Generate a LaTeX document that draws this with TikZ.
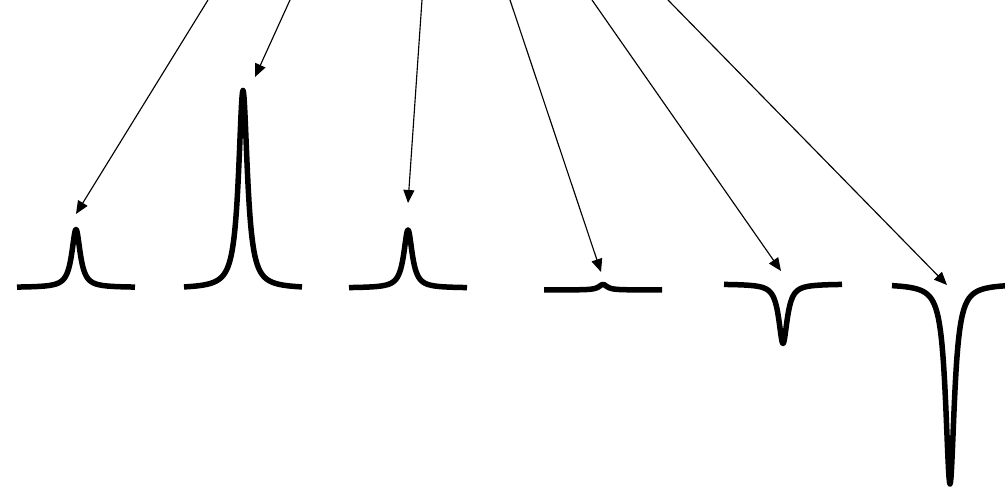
\documentclass[tikz,border=0pt]{standalone}
\usepackage{tikz}
\usepackage{xcolor}
\usetikzlibrary{arrows.meta}
\definecolor{tracec}{HTML}{000000}
\definecolor{pointc}{HTML}{000000}
\tikzset{
  trace/.style={draw=tracec, line width=0.11cm, line join=round},
  pointer/.style={draw=pointc, line width=0.65pt, -{Triangle[length=0.26cm,width=0.22cm]}},
}

\begin{document}
\begin{tikzpicture}[x=0.02cm, y=-0.02cm]
\useasboundingbox (0,0) rectangle (1005,489);
% line shapes
\draw[trace] plot[domain=-59:59, samples=237] ({76+\x}, {287.5-58*26/(\x*\x+26)});
\draw[trace] plot[domain=-59:59, samples=237] ({243+\x}, {288.5-198*28/(\x*\x+28)});
\draw[trace] plot[domain=-59:59, samples=237] ({408+\x}, {288-58*26/(\x*\x+26)});
\draw[trace] plot[domain=-59:59, samples=237] ({603+\x}, {290-5.5*26/(\x*\x+26)});
\draw[trace] plot[domain=-59:59, samples=237] ({783+\x}, {284+59.5*26/(\x*\x+26)});
\draw[trace] plot[domain=-58:58, samples=233] ({950+\x}, {284+200*28/(\x*\x+28)});
% arrows
\coordinate (src1) at (208,0);
\coordinate (src2) at (290,0);
\coordinate (src3) at (422,0);
\coordinate (src4) at (510,0);
\coordinate (src5) at (592,0);
\coordinate (src6) at (668,0);
\coordinate (tip1) at (76,214);
\coordinate (tip2) at (255,77);
\coordinate (tip3) at (408,203);
\coordinate (tip4) at (601,272);
\coordinate (tip5) at (781,271);
\coordinate (tip6) at (947,285);
\draw[pointer] (src1) -- (tip1);
\draw[pointer] (src2) -- (tip2);
\draw[pointer] (src3) -- (tip3);
\draw[pointer] (src4) -- (tip4);
\draw[pointer] (src5) -- (tip5);
\draw[pointer] (src6) -- (tip6);
\end{tikzpicture}
\end{document}
